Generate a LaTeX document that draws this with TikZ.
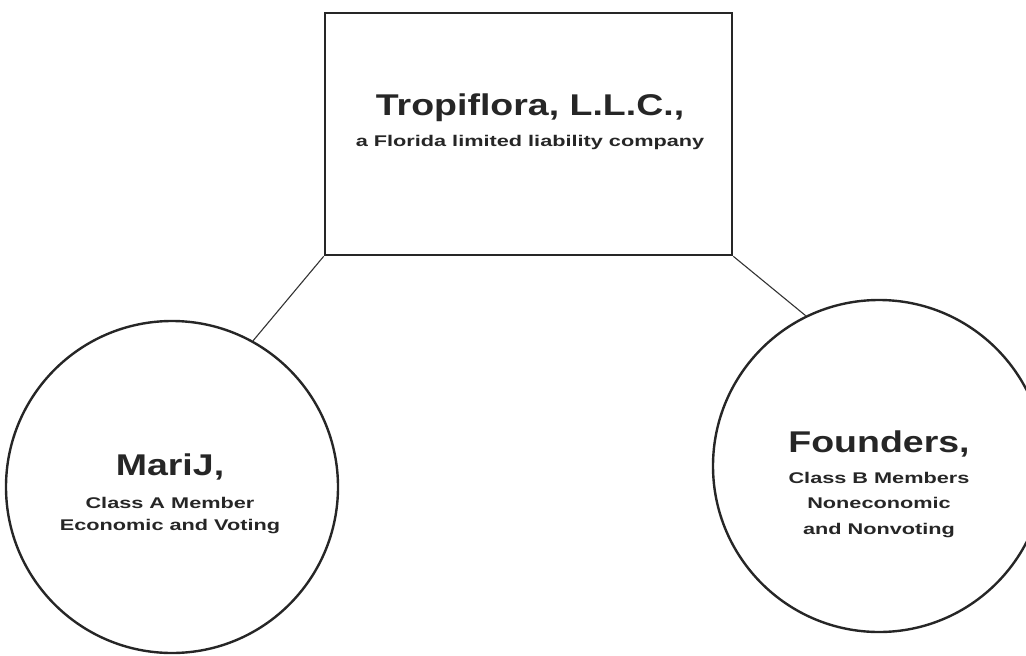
\documentclass[tikz,border=0pt]{standalone}
\usepackage{fontspec}
\setmainfont{Liberation Sans}
\newfontfamily\widename[FakeStretch=1.25]{Liberation Sans}
\newfontfamily\widenote[FakeStretch=1.4]{Liberation Sans}
\usetikzlibrary{positioning}

\begin{document}
\begin{tikzpicture}[x=1pt, y=-1pt,
  firm/.style={draw=black!85, line width=2.6pt, minimum width=407pt, minimum height=242pt, inner sep=0pt},
  member/.style={circle, draw=black!85, line width=2.4pt, minimum size=332pt, inner sep=0pt},
  link/.style={draw=black!80, line width=1.1pt},
  bigname/.style={font=\widename\bfseries\fontsize{30}{34}\selectfont, text=black!85, inner sep=0pt},
  smallnote/.style={font=\widenote\bfseries\fontsize{15.5}{22}\selectfont, text=black!85, align=center, inner sep=0pt}]
  \useasboundingbox (0,0) rectangle (1026,656);

  % Empresa
  \node[firm] (llc) at (528.5,134) {};
  \node[bigname, anchor=base] (llcname) at (530,115) {Tropiflora, L.L.C.,};
  \node[smallnote, anchor=north] (llcnote) at (530,135) {a Florida limited liability company};

  % Miembros
  \node[member] (marij) at (172,487) {};
  \node[bigname, anchor=base] (marijname) at (170,475) {MariJ,};
  \node[smallnote, anchor=north] (marijnote) at (170,497) {Class A Member\\Economic and Voting};

  \node[member] (founders) at (879,466) {};
  \node[bigname, anchor=base] (foundersname) at (879,452) {Founders,};
  \node[smallnote, anchor=north, font=\widenote\bfseries\fontsize{15.5}{25.5}\selectfont] (foundersnote) at (879,472) {Class B Members\\Noneconomic\\and Nonvoting};

  % Lineas
  \draw[link] (llc.south west) -- (marij.61.5);
  \draw[link] (llc.south east) -- (founders.116.5);
\end{tikzpicture}
\end{document}
